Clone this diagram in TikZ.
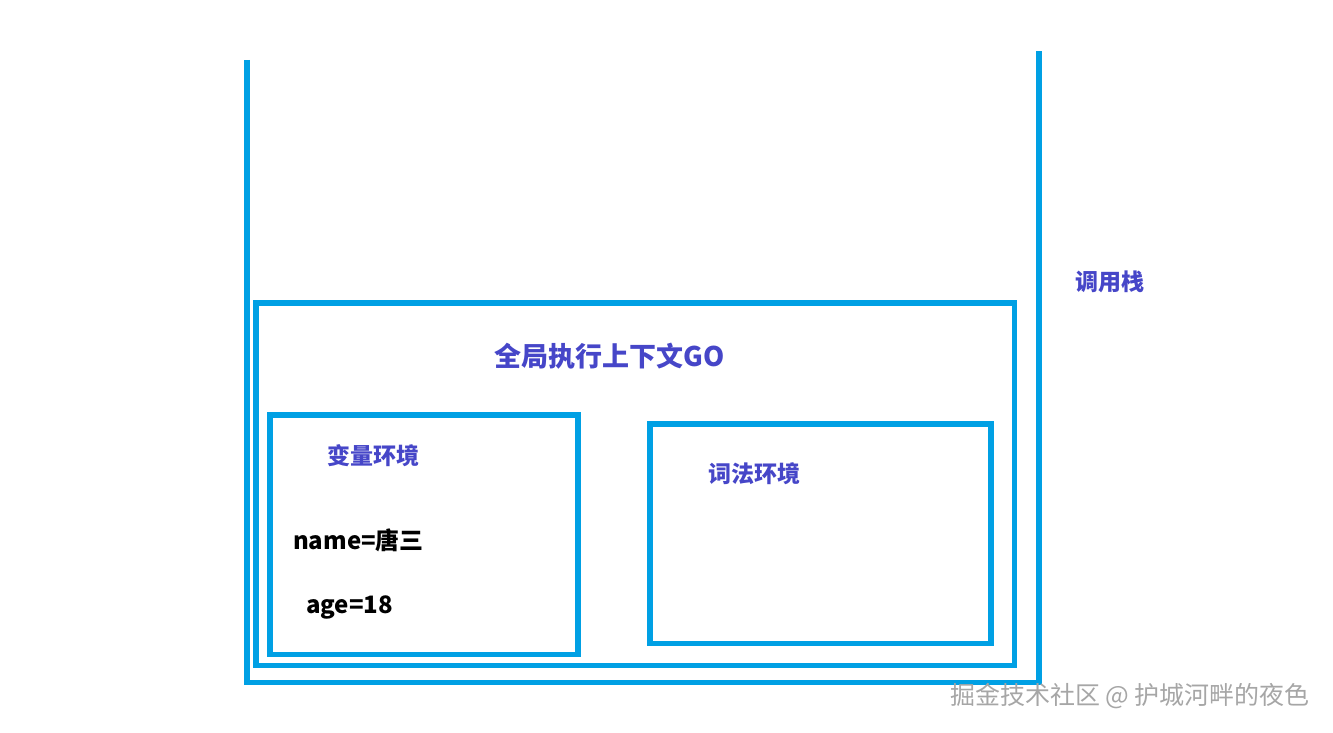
\documentclass[tikz,border=0pt]{standalone}
\usepackage{fontspec}
\newfontfamily\cjk{Noto Sans CJK SC}
\definecolor{stackblue}{HTML}{00A0E4}
\definecolor{textblue}{HTML}{4646C8}
\tikzset{frame/.style = {draw=stackblue, line width=2.8pt}}
\tikzset{bluetext/.style = {text=textblue, font=\cjk\bfseries\fontsize{11.5}{13}\selectfont, inner sep=0pt}}
\tikzset{vartext/.style = {text=black, font=\cjk\bfseries\fontsize{12}{14}\selectfont, inner sep=0pt}}

\begin{document}
\begin{tikzpicture}[x=0.5pt, y=0.5pt]
      \useasboundingbox (0, 0) rectangle (1333, 733);
      % call stack, open at the top
      \coordinate (stl) at (247, 673);
      \coordinate (str) at (1039, 682);
      \draw[frame] (stl) -- (247, 50.5) -- (1039, 50.5) -- (str);
      \node[bluetext] (stack) at (1110, 451) {调用栈};

      % global execution context
      \draw[frame] (256, 67.5) rectangle (1014.5, 430);
      \node[bluetext, font=\cjk\bfseries\fontsize{13.5}{15}\selectfont] (go) at (609.5, 377) {全局执行上下文GO};

      % variable environment
      \draw[frame] (270, 78.5) rectangle (578, 318);
      \node[bluetext] (varenv) at (373.5, 277) {变量环境};
      \node[vartext] (name) at (358.5, 193) {name=唐三};
      \node[vartext] (age) at (349.5, 126) {age=18};

      % lexical environment
      \draw[frame] (650, 89.5) rectangle (991, 309);
      \node[bluetext] (lexenv) at (754, 259) {词法环境};

      \node[text=gray!70, font=\cjk\fontsize{12.5}{14}\selectfont, inner sep=0pt] (mark) at (1130, 37) {掘金技术社区 @ 护城河畔的夜色};
    \end{tikzpicture}
\end{document}
